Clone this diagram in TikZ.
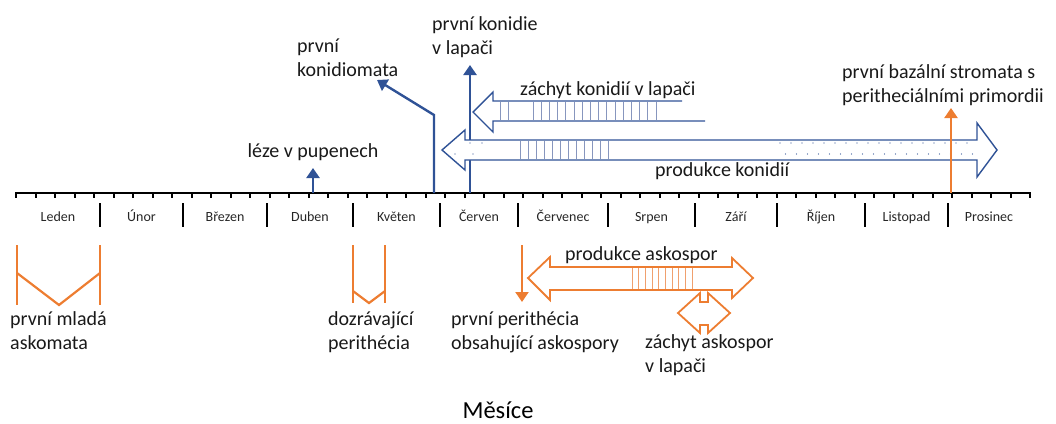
\documentclass[tikz,border=0pt]{standalone}
\usepackage{fontspec}
\setmainfont{Carlito}
\usetikzlibrary{arrows.meta,positioning,calc}
\definecolor{konblue}{RGB}{47,82,150}
\definecolor{stripeblue}{RGB}{135,150,190}
\definecolor{askorange}{RGB}{237,125,49}
\definecolor{stripeorange}{RGB}{240,160,110}
\tikzstyle{osa}=[line width=2pt,black]
\tikzstyle{predel}=[line width=2pt,black]
\tikzstyle{mesic}=[font=\fontsize{14}{16}\selectfont,anchor=base,inner sep=0pt,text=black!85]
\tikzstyle{popis}=[font=\fontsize{20}{24}\selectfont,align=left,inner sep=0pt,text=black!90]
\tikzstyle{bluearr}=[konblue,line width=2.4pt,->,>={Triangle[length=10pt,width=13pt]}]
\tikzstyle{orangearr}=[askorange,line width=2.2pt,->,>={Triangle[length=10pt,width=13pt]}]
\tikzstyle{orangeline}=[askorange,line width=2.2pt]
\tikzstyle{bigblue}=[konblue,line width=1.4pt,fill=white,line join=miter]
\tikzstyle{bigorange}=[askorange,line width=1.8pt,fill=white,line join=miter]
\tikzstyle{bstripe}=[stripeblue,line width=0.8pt]
\tikzstyle{ostripe}=[stripeorange,line width=0.8pt]
\begin{document}
\begin{tikzpicture}[x=1pt,y=-1pt]
\useasboundingbox (0,0) rectangle (1056,423);

% casova osa
\coordinate (osaL) at (15,193);
\coordinate (osaR) at (1031,193);
\draw[osa] (osaL) -- (osaR);
\foreach \i in {0,...,52}
  \draw[osa] (16+19.5*\i,193) -- ++(0,5);
\foreach \x in {100,183,267,353,440,518,608,695,777,865,948}
  \draw[predel] (\x,203) -- (\x,227);
\foreach \a/\b/\m [count=\n] in {16/100/Leden,100/183/Únor,183/267/Březen,267/353/Duben,353/440/Květen,440/518/Červen,518/608/Červenec,608/695/Srpen,695/777/Září,777/865/Říjen,865/948/Listopad,948/1030/Prosinec}
  \node[mesic] (m\n) at ({(\a+\b)/2},221) {\m};

% leze v pupenech
\coordinate (lezeA) at (313,193);
\coordinate (lezeB) at (313,168);
\draw[bluearr] (lezeA) -- (lezeB);
\node[popis,anchor=base] (leze) at (313,157) {léze v pupenech};

% prvni konidiomata
\coordinate (kdmA) at (434,193);
\coordinate (kdmB) at (434,115);
\coordinate (kdmC) at (377,80);
\draw[bluearr] (kdmA) -- (kdmB) -- (kdmC);
\node[popis,anchor=north west] (konidiomata) at (297,39) {první\\konidiomata};

% prvni konidie v lapaci
\coordinate (kdA) at (470,193);
\coordinate (kdB) at (470,65);
\draw[bluearr] (kdA) -- (kdB);
\node[popis,anchor=north west] (konidie) at (432,16) {první konidie\\v lapači};

% zachyt konidii v lapaci
\draw[bigblue,fill=none] (682,101) -- (493,101) -- (493,92) -- (473,112)
  -- (493,132) -- (493,121) -- (705,121);
\foreach \x in {500,508} \draw[bstripe] (\x,102) -- (\x,120);
\foreach \i in {0,...,15} \draw[bstripe] (533+8.2*\i,102) -- (533+8.2*\i,120);
\node[popis,anchor=base west] (zachytkon) at (520,95) {záchyt konidií v lapači};

% produkce konidii
\draw[bigblue] (442,150) -- (465,130) -- (465,140) -- (977,140) -- (977,123)
  -- (997,150) -- (977,177) -- (977,160) -- (465,160) -- (465,170) -- cycle;
\foreach \i in {0,...,11} \draw[bstripe] (520+8*\i,141) -- (520+8*\i,159);
\foreach \p in {(470,143),(482,143),(455,154),(473,154)}
  \fill[konblue] \p circle (0.7);
\foreach \i in {0,...,17} {
  \fill[konblue] (780+11*\i,143) circle (0.7);
  \fill[konblue] (785.5+11*\i,154) circle (0.7);
}
\node[popis,anchor=base west] (produkcekon) at (655,176) {produkce konidií};

% prvni bazalni stromata
\coordinate (strA) at (951,193);
\coordinate (strB) at (951,108);
\draw[orangearr] (strA) -- (strB);
\node[popis,anchor=north west] (stromata) at (842,64) {první bazální stromata s\\peritheciálními primordii};

% prvni mlada askomata
\draw[orangeline] (17,245) -- (17,305);
\draw[orangeline] (100,245) -- (100,305);
\draw[orangeline] (17,273) -- (59,305) -- (100,273);
\node[popis,anchor=north west] (askomata) at (10,311) {první mladá\\askomata};

% dozravajici perithecia
\draw[orangeline] (353,245) -- (353,303);
\draw[orangeline] (385,245) -- (385,303);
\draw[orangeline] (353,291) -- (369,303) -- (385,291);
\node[popis,anchor=north west] (dozravajici) at (328,311) {dozrávající\\perithécia};

% prvni perithecia obsahujici askospory
\coordinate (perA) at (522,245);
\coordinate (perB) at (522,302);
\draw[orangearr] (perA) -- (perB);
\node[popis,anchor=north west] (perithecia) at (451,311) {první perithécia\\obsahující askospory};

% produkce askospor
\draw[bigorange] (528,278) -- (550,257) -- (550,267) -- (732,267) -- (732,258)
  -- (753,278) -- (732,298) -- (732,290) -- (550,290) -- (550,300) -- cycle;
\foreach \i in {0,...,9} \draw[ostripe] (632+6.67*\i,268) -- (632+6.67*\i,289);
\node[popis,anchor=base west] (produkceasko) at (565,260) {produkce askospor};

% zachyt askospor v lapaci
\draw[bigorange] (678,313) -- (700,293) -- (700,302) -- (708,302) -- (708,293)
  -- (730,313) -- (708,333) -- (708,325) -- (700,325) -- (700,333) -- cycle;
\node[popis,anchor=north west] (zachytasko) at (645,334) {záchyt askospor\\v lapači};

% popis osy
\node[font=\fontsize{24.5}{28}\selectfont,anchor=base,inner sep=0pt] (mesice) at (498,418) {Měsíce};
\end{tikzpicture}
\end{document}
